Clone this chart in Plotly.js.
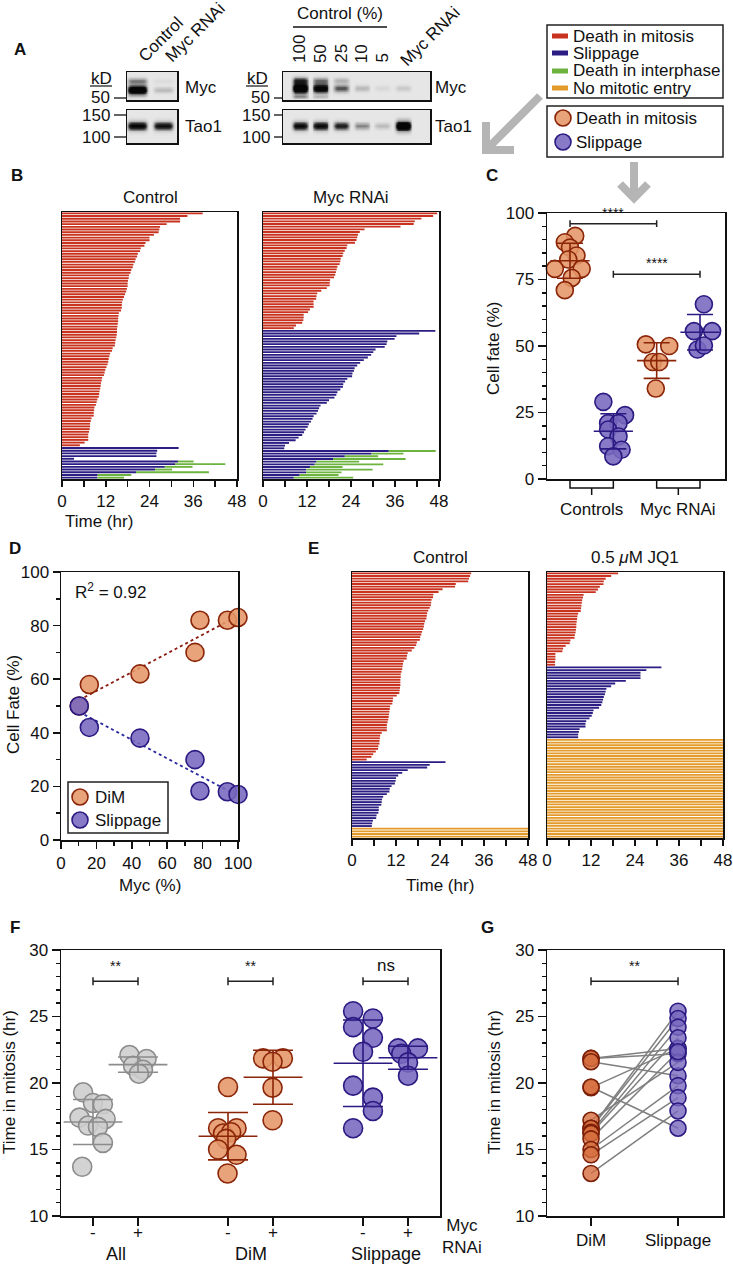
<!DOCTYPE html>
<html><head><meta charset="utf-8">
<script src="https://cdn.plot.ly/plotly-3.0.1.min.js"></script>
<style>html,body{margin:0;padding:0;background:#fff;}#chart{width:733px;height:1264px;}</style>
</head><body><div id="chart"></div>
<script>
// ---------------- DATA ----------------
// Panel A: relative band intensities per lane
const blot1Lanes = ['Control','Myc RNAi'];
const blot1Myc = [1.3, 0.22];
const blot1MycSmear = [0.45, 0.05];
const blot1Tao1 = [1.05, 0.95];
const blot2Lanes = ['100','50','25','10','5','Myc RNAi'];
const blot2Myc = [1.4, 1.15, 0.6, 0.22, 0.07, 0.14];
const blot2MycSmear = [0.7, 0.45, 0.25, 0.0, 0.0, 0.0];
const blot2MycLow = [0.35, 0.2, 0.0, 0.0, 0.0, 0.0];
const blot2Tao1 = [1.0, 1.0, 0.85, 0.45, 0.22, 1.4];

// Panel B: time (hr) per cell
const bCtrlDiM = [38.6,34.4,32.4,32.4,28.7,26.9,26.7,26.5,25.2,24.0,24.0,22.9,22.6,21.6,21.4,20.8,20.6,20.2,20.0,19.6,19.4,19.0,18.8,18.4,18.3,18.1,18.0,18.0,17.8,17.6,17.3,17.0,16.7,16.5,16.4,16.4,16.2,15.6,15.5,15.4,15.4,15.3,15.2,15.1,15.1,15.0,14.9,14.7,14.6,14.5,13.9,13.7,13.2,13.0,12.8,12.7,12.5,12.2,11.9,11.7,11.5,11.0,10.9,10.7,10.6,10.5,10.3,10.2,10.1,9.7,9.5,9.3,8.9,8.8,8.7,8.7,8.1,7.9,7.7,7.7,7.6,7.4,7.2,7.2,7.2,6.2,4.9];
const bCtrlSlip = [32.0,26.1,25.9,25.9,3.3];
const bCtrlSlipThenDieMitExit = [31.8,31.0,28.2,25.5,20.3,9.8,9.7];
const bCtrlSlipThenDieDeath = [36.1,44.8,35.8,30.2,40.3,19.0,17.0];
const bMycDiM = [47.5,46.4,43.2,41.4,41.1,37.5,27.7,26.4,25.9,25.7,25.5,25.1,23.0,22.8,22.3,21.9,21.7,21.2,21.1,20.9,20.3,20.1,19.9,19.7,19.4,18.3,18.2,18.2,17.4,15.9,14.8,14.6,14.5,13.8,13.8,13.8,12.8,12.3,11.1,11.1,11.0,10.7,9.0,8.4];
const bMycSlip = [47.0,42.6,36.4,35.9,33.9,33.7,33.2,30.7,30.1,29.5,28.6,27.5,26.5,25.7,25.0,24.8,24.4,24.3,23.0,22.4,21.9,21.8,21.1,20.3,20.0,19.5,18.0,17.4,15.7,15.3,15.0,14.6,13.8,13.5,13.1,12.5,12.2,11.6,11.2,10.7,9.7,8.9,7.1,6.0,5.8];
const bMycSlipThenDieMitExit = [34.3,29.6,22.3,19.1,14.6,14.1,12.8,11.8,11.8,10.0,8.4];
const bMycSlipThenDieDeath = [47.1,38.3,31.4,38.9,26.2,32.8,21.7,29.9,21.4,20.6,24.6];

// Panel C: cell fate (%) per experiment
const cCtrlDiM = [91.4,89,87,84,82.5,79,79,75.6,71];
const cCtrlDiMJit = [0.12,-0.12,0,0.15,-0.04,-0.35,0.27,0.04,-0.12];
const cCtrlSlip = [29,24,21,21,18.6,16,12.3,11,8.5];
const cCtrlSlipJit = [-0.23,0.27,-0.12,0.12,-0.12,0.12,-0.12,0.19,0];
const cMycDiM = [50.6,50,44,44,34];
const cMycDiMJit = [-0.25,0.29,-0.09,0.06,-0.02];
const cMycSlip = [65.7,55.6,55.6,48.7,50.2];
const cMycSlipJit = [0.09,-0.14,0.28,-0.06,0.09];
const cGroupLabels = ['Controls','Myc RNAi'];

// Panel D
const dMyc = [10.3,16,44.6,75.7,78.5,94,100];
const dDiM = [50,58,62,70,82,82,83];
const dSlip = [50,42,38,30,18.3,18,17];
const dR2 = '0.92';

// Panel E
const eCtrlDiM = [32.5,32.2,31.9,31.7,28.3,28.1,24.7,23.6,22.2,22.1,21.7,21.6,21.5,21.2,20.8,20.5,20.4,20.3,19.9,19.7,19.6,19.4,19.1,18.9,18.6,18.5,17.7,17.5,17.0,16.3,15.2,15.0,14.9,14.1,13.9,13.8,13.7,13.5,13.3,13.3,13.2,13.2,13.2,13.1,13.0,12.9,12.2,11.2,11.1,11.0,10.4,10.3,10.2,10.1,10.0,9.9,9.7,9.5,9.5,9.5,8.1,7.7,7.6,7.5,7.5,7.2,7.1,6.5,5.8,5.3,4.0];
const eCtrlSlip = [25.5,21.2,20.5,15.2,13.7,12.6,12.0,11.9,11.7,10.8,10.3,10.2,9.5,8.5,8.2,8.1,8.0,7.3,7.3,7.2,6.7,6.6,5.7,5.5,5.4];
const eCtrlNoEntry = [48,48,48,48];
const eJQ1DiM = [19.4,17.5,16.0,15.5,15.4,14.4,13.9,13.3,10.0,9.8,9.6,9.5,9.4,9.3,9.2,8.5,8.3,8.2,8.1,8.0,8.0,7.9,7.8,7.6,7.5,6.4,6.2,5.1,4.4,4.2,2.3,2.3,2.3,2.2,2.2];
const eJQ1Slip = [31.2,27.1,25.5,25.5,25.5,21.5,18.6,17.5,16.2,16.0,15.8,15.5,15.3,15.1,14.8,14.2,12.7,12.5,12.2,11.6,10.7,10.5,10.5,8.9,8.7,8.5,8.5];
const eJQ1NoEntry = [48,48,48,48,48,48,48,48,48,48,48,48,48,48,48,48,48,48,48,48,48,48,48,48,48,48,48,48,48,48,48,48,48,48,48,48,48];

// Panel F: time in mitosis (hr) per experiment
const fAllMinus = [19.3,18.5,18.4,17.4,17.3,16.8,16.7,15.5,13.7];
const fAllMinusJit = [-0.22,0,0.22,-0.30,0.28,-0.11,0.11,0.22,-0.24];
const fAllPlus = [22.1,21.8,21.3,21.0,20.7];
const fAllPlusJit = [-0.19,0.19,-0.11,0.11,0.02];
const fDiMMinus = [19.7,16.6,16.6,16.2,16.3,15.8,15.0,14.6,13.2];
const fDiMMinusJit = [0,-0.22,0.19,-0.11,0.07,-0.04,-0.22,0.19,-0.01];
const fDiMPlus = [21.85,21.85,21.6,19.65,17.2];
const fDiMPlusJit = [-0.22,0.22,-0.01,-0.01,-0.01];
const fSlipMinus = [25.4,24.85,24.2,23.4,22.35,19.8,18.9,17.9,16.6];
const fSlipMinusJit = [-0.22,0.22,-0.22,0.22,0,-0.22,0.22,0.22,-0.22];
const fSlipPlus = [22.6,22.6,22.2,21.55,20.55];
const fSlipPlusJit = [-0.22,0.22,-0.15,0,0];
const fTickVals = [1,2,4,5,7,8];
const fTickText = ['-','+','-','+','-','+'];
const fGroups = ['All','DiM','Slippage'];

// Panel G: paired DiM / Slippage per experiment
const gDiM = [21.85,21.85,21.6,19.65,17.2,19.7,16.6,16.6,16.3,16.2,15.8,15.0,14.6,13.2];
const gSlip = [22.2,22.6,20.55,22.6,21.55,16.6,25.4,24.85,24.2,23.4,22.35,19.8,18.9,17.9];

// ---------------- STYLE / HELPERS ----------------
const FONT = 'Liberation Sans, Arial, Helvetica, sans-serif';
const W = 733, H = 1264;
const fx = p => p / W, fy = p => 1 - p / H;
const RED = '#c8321e', NAVY = '#2b1d84', GREEN = '#6db33f', ORANGE = '#e39a2b';
const DIM_FILL = 'rgba(229,150,104,0.88)', DIM_LINE = '#8a2508';
const SLIP_FILL = 'rgba(120,104,190,0.88)', SLIP_LINE = '#2a1a82';
const GRAY_FILL = 'rgba(205,205,205,0.88)', GRAY_LINE = '#8c8c8c';
const INK = '#111';

const traces = [], shapes = [], annotations = [];
const layout = {width: W, height: H, margin: {l:0,r:0,t:0,b:0}, paper_bgcolor:'#fff', plot_bgcolor:'rgba(0,0,0,0)',
  showlegend:false, hovermode:false, barmode:'overlay', bargap:0.3, font:{family:FONT, color:INK}};

const aid = n => n === 1 ? '' : String(n);
function ann(text, x, y, o) {
  return Object.assign({text, x: fx(x), y: fy(y), xref:'paper', yref:'paper', showarrow:false,
    font:{family:FONT, size:17, color:INK}, xanchor:'center', yanchor:'middle'}, o || {});
}
function boxAxis(o) {
  return Object.assign({showline:true, mirror:true, linecolor:INK, linewidth:1.5, showgrid:false,
    zeroline:false, fixedrange:true, ticks:'outside', ticklen:6, tickwidth:1.5, tickcolor:INK,
    tickfont:{family:FONT, size:17, color:INK}}, o);
}
function setAxes(n, xd, yd, xo, yo) {
  layout['xaxis' + aid(n)] = boxAxis(Object.assign({domain:[fx(xd[0]), fx(xd[1])], anchor:'y' + aid(n)}, xo));
  layout['yaxis' + aid(n)] = boxAxis(Object.assign({domain:[fy(yd[1]), fy(yd[0])], anchor:'x' + aid(n)}, yo));
}
const idx = (n, off) => Array.from({length:n}, (_, i) => off + i);

// ---------------- PANELS B & E: single-cell fate bars ----------------
function fatePanel(n, xd, yd, segs) {
  let row = 0;
  const xa = 'x' + aid(n), ya = 'y' + aid(n);
  segs.forEach(s => {
    const rows = idx(s.vals.length, row);
    traces.push({type:'bar', orientation:'h', x:s.vals, y:rows, xaxis:xa, yaxis:ya,
      marker:{color:s.color, line:{width:0}}, hoverinfo:'skip'});
    if (s.green) {
      traces.push({type:'bar', orientation:'h', base:s.vals, x:s.green.map((d, i) => d - s.vals[i]),
        y:rows, xaxis:xa, yaxis:ya, marker:{color:GREEN, line:{width:0}}, hoverinfo:'skip'});
    }
    row += s.vals.length;
  });
  setAxes(n, xd, yd,
    {range:[0,48], tickmode:'linear', tick0:0, dtick:12,
     minor:{dtick:6, ticks:'outside', ticklen:6, tickwidth:1.5, tickcolor:INK, showgrid:false}},
    {range:[row - 0.5, -0.5], showticklabels:false, ticks:''});
}
fatePanel(1, [62,237], [212,479], [
  {vals:bCtrlDiM, color:RED}, {vals:bCtrlSlip, color:NAVY},
  {vals:bCtrlSlipThenDieMitExit, color:NAVY, green:bCtrlSlipThenDieDeath}]);
fatePanel(2, [263,439], [212,479], [
  {vals:bMycDiM, color:RED}, {vals:bMycSlip, color:NAVY},
  {vals:bMycSlipThenDieMitExit, color:NAVY, green:bMycSlipThenDieDeath}]);
fatePanel(5, [352,528], [572,838], [
  {vals:eCtrlDiM, color:RED}, {vals:eCtrlSlip, color:NAVY}, {vals:eCtrlNoEntry, color:ORANGE}]);
fatePanel(6, [547,723], [572,838], [
  {vals:eJQ1DiM, color:RED}, {vals:eJQ1Slip, color:NAVY}, {vals:eJQ1NoEntry, color:ORANGE}]);

// ---------------- stats helpers ----------------
const mean = a => a.reduce((s, v) => s + v, 0) / a.length;
const sd = a => { const m = mean(a); return Math.sqrt(a.reduce((s, v) => s + (v - m) * (v - m), 0) / (a.length - 1)); };

function dotGroup(ax, pos, vals, jit, fill, line, size, meanW, capW) {
  const xa = 'x' + aid(ax), ya = 'y' + aid(ax);
  traces.push({type:'scatter', mode:'markers', x: vals.map((v, i) => pos + jit[i]), y: vals,
    xaxis:xa, yaxis:ya, cliponaxis:false, hoverinfo:'skip',
    marker:{size, color:fill, line:{color:line, width:1.6}}});
  traces.push({type:'scatter', mode:'markers', x:[pos], y:[mean(vals)], xaxis:xa, yaxis:ya, cliponaxis:false, hoverinfo:'skip',
    marker:{symbol:'line-ew', size:meanW, color:line, line:{color:line, width:1.6}},
    error_y:{type:'data', array:[sd(vals)], visible:true, color:line, thickness:1.6, width:capW}});
}
function sigBracket(ax, x0, x1, y, cap, label, lsize, dy) {
  const xr = 'x' + aid(ax), yr = 'y' + aid(ax);
  shapes.push({type:'path', xref:xr, yref:yr,
    path:`M${x0},${y - cap} L${x0},${y + cap} M${x0},${y} L${x1},${y} M${x1},${y - cap} L${x1},${y + cap}`,
    line:{color:'#222', width:1.5}});
  annotations.push({text:label, x:(x0 + x1) / 2, y:y + dy, xref:xr, yref:yr, showarrow:false,
    font:{family:FONT, size:lsize, color:INK}, xanchor:'center', yanchor:'bottom'});
}

// ---------------- PANEL C ----------------
setAxes(3, [547,725], [213,479],
  {range:[0.469,4.577], ticks:'', showticklabels:false},
  {range:[0,100], tickmode:'linear', tick0:0, dtick:25, ticklen:8,
   minor:{dtick:5, ticks:'outside', ticklen:4, tickwidth:1.5, tickcolor:INK, showgrid:false}});
dotGroup(3, 1, cCtrlDiM, cCtrlDiMJit, DIM_FILL, DIM_LINE, 17, 28, 13);
dotGroup(3, 2, cCtrlSlip, cCtrlSlipJit, SLIP_FILL, SLIP_LINE, 17, 28, 13);
dotGroup(3, 3, cMycDiM, cMycDiMJit, DIM_FILL, DIM_LINE, 17, 28, 13);
dotGroup(3, 4, cMycSlip, cMycSlipJit, SLIP_FILL, SLIP_LINE, 17, 28, 13);
sigBracket(3, 1, 3, 96, 1.3, '****', 14, 0.4);
sigBracket(3, 2, 4, 77, 1.3, '****', 14, 0.4);
[[1,2],[3,4]].forEach((p, i) => {
  shapes.push({type:'path', xref:'x3', yref:'paper',
    path:`M${p[0]},${fy(481)} L${p[0]},${fy(488)} L${p[1]},${fy(488)} L${p[1]},${fy(481)} M${(p[0]+p[1])/2},${fy(488)} L${(p[0]+p[1])/2},${fy(495)}`,
    line:{color:INK, width:1.5}});
  annotations.push({text:cGroupLabels[i], x:(p[0]+p[1])/2, y:fy(509), xref:'x3', yref:'paper', showarrow:false,
    font:{family:FONT, size:17, color:INK}, xanchor:'center', yanchor:'middle'});
});
annotations.push(ann('Cell fate (%)', 493, 348, {textangle:-90}));

// ---------------- PANEL D ----------------
setAxes(4, [61,238], [572,840],
  {range:[0,100], tickmode:'linear', tick0:0, dtick:20, ticklen:7,
   minor:{dtick:10, ticks:'outside', ticklen:4, tickwidth:1.5, tickcolor:INK, showgrid:false}},
  {range:[0,100], tickmode:'linear', tick0:0, dtick:20, ticklen:7,
   minor:{dtick:10, ticks:'outside', ticklen:4, tickwidth:1.5, tickcolor:INK, showgrid:false}});
function fitLine(x, y) {
  const mx = mean(x), my = mean(y);
  let sxy = 0, sxx = 0; x.forEach((v, i) => { sxy += (v - mx) * (y[i] - my); sxx += (v - mx) * (v - mx); });
  const b = sxy / sxx, a = my - b * mx;
  const xs = [Math.min(...x), Math.max(...x)];
  return {x: xs, y: xs.map(v => a + b * v)};
}
const dFitDiM = fitLine(dMyc, dDiM), dFitSlip = fitLine(dMyc, dSlip);
traces.push({type:'scatter', mode:'lines', x:dFitDiM.x, y:dFitDiM.y, xaxis:'x4', yaxis:'y4', line:{color:'#8a1a10', width:1.8, dash:'dot'}, hoverinfo:'skip'});
traces.push({type:'scatter', mode:'lines', x:dFitSlip.x, y:dFitSlip.y, xaxis:'x4', yaxis:'y4', line:{color:'#2a2aa0', width:1.8, dash:'dot'}, hoverinfo:'skip'});
traces.push({type:'scatter', mode:'markers', x:dMyc, y:dDiM, xaxis:'x4', yaxis:'y4', cliponaxis:false, hoverinfo:'skip',
  marker:{size:18, color:DIM_FILL, line:{color:DIM_LINE, width:1.6}}});
traces.push({type:'scatter', mode:'markers', x:dMyc, y:dSlip, xaxis:'x4', yaxis:'y4', cliponaxis:false, hoverinfo:'skip',
  marker:{size:18, color:SLIP_FILL, line:{color:SLIP_LINE, width:1.6}}});
annotations.push(ann('R<sup>2</sup> = ' + dR2, 73, 591, {xanchor:'left', size:17}));
annotations.push(ann('Cell Fate (%)', 13, 705, {textangle:-90}));
annotations.push(ann('Myc (%)', 150, 885));
shapes.push({type:'rect', xref:'paper', yref:'paper', x0:fx(68), x1:fx(168), y0:fy(833), y1:fy(782), line:{color:'#222', width:1.5}, fillcolor:'#fff'});
[[797, DIM_FILL, DIM_LINE, 'DiM'], [820, SLIP_FILL, SLIP_LINE, 'Slippage']].forEach(r => {
  shapes.push({type:'circle', xref:'paper', yref:'paper', x0:fx(72), x1:fx(88), y0:fy(r[0] + 8), y1:fy(r[0] - 8), fillcolor:r[1], line:{color:r[2], width:1.6}});
  annotations.push(ann(r[3], 93, r[0], {xanchor:'left'}));
});

// ---------------- PANEL F ----------------
setAxes(7, [61,440], [950,1216],
  {range:[0.289,8.711], tickmode:'array', tickvals:fTickVals, ticklen:8, showticklabels:false},
  {range:[10,30], tickmode:'linear', tick0:10, dtick:5, ticklen:8,
   minor:{dtick:1, ticks:'outside', ticklen:4, tickwidth:1.5, tickcolor:INK, showgrid:false}});
dotGroup(7, 1, fAllMinus, fAllMinusJit, GRAY_FILL, GRAY_LINE, 19, 42, 20);
dotGroup(7, 2, fAllPlus, fAllPlusJit, GRAY_FILL, GRAY_LINE, 19, 42, 20);
dotGroup(7, 4, fDiMMinus, fDiMMinusJit, DIM_FILL, DIM_LINE, 19, 42, 20);
dotGroup(7, 5, fDiMPlus, fDiMPlusJit, DIM_FILL, DIM_LINE, 19, 42, 20);
dotGroup(7, 7, fSlipMinus, fSlipMinusJit, SLIP_FILL, SLIP_LINE, 19, 42, 20);
dotGroup(7, 8, fSlipPlus, fSlipPlusJit, SLIP_FILL, SLIP_LINE, 19, 42, 20);
sigBracket(7, 1, 2, 27.65, 0.3, '**', 14, 0.4);
sigBracket(7, 4, 5, 27.65, 0.3, '**', 14, 0.4);
sigBracket(7, 7, 8, 27.65, 0.3, 'ns', 17, 0.3);
fTickVals.forEach((v, i) => annotations.push({text:fTickText[i], x:v, y:fy(1232), xref:'x7', yref:'paper', showarrow:false,
  font:{family:FONT, size:17, color:INK}, xanchor:'center', yanchor:'middle'}));
fGroups.forEach((g, i) => annotations.push({text:g, x:(fTickVals[2*i] + fTickVals[2*i+1]) / 2, y:fy(1254), xref:'x7', yref:'paper', showarrow:false,
  font:{family:FONT, size:18, color:INK}, xanchor:'center', yanchor:'middle'}));
annotations.push(ann('Myc<br>RNAi', 462, 1236, {size:17}));
annotations.push(ann('Time in mitosis (hr)', 9, 1082, {textangle:-90, size:18}));

// ---------------- PANEL G ----------------
setAxes(8, [547,723], [950,1216],
  {range:[-0.506,1.517], tickmode:'array', tickvals:[0,1], ticktext:['DiM','Slippage'], ticklen:8},
  {range:[10,30], tickmode:'linear', tick0:10, dtick:5, ticklen:8,
   minor:{dtick:1, ticks:'outside', ticklen:4, tickwidth:1.5, tickcolor:INK, showgrid:false}});
const gx = [], gy = [];
gDiM.forEach((d, i) => { gx.push(0, 1, null); gy.push(d, gSlip[i], null); });
traces.push({type:'scatter', mode:'lines', x:gx, y:gy, xaxis:'x8', yaxis:'y8', line:{color:'#7f7f7f', width:1.5}, hoverinfo:'skip', connectgaps:false});
traces.push({type:'scatter', mode:'markers', x:gDiM.map(() => 0), y:gDiM, xaxis:'x8', yaxis:'y8', cliponaxis:false, hoverinfo:'skip',
  marker:{size:16, color:'rgba(214,110,62,0.8)', line:{color:'#7a1e06', width:1.6}}});
traces.push({type:'scatter', mode:'markers', x:gSlip.map(() => 1), y:gSlip, xaxis:'x8', yaxis:'y8', cliponaxis:false, hoverinfo:'skip',
  marker:{size:16, color:'rgba(120,104,190,0.8)', line:{color:SLIP_LINE, width:1.6}}});
sigBracket(8, 0, 1, 27.65, 0.3, '**', 14, 0.4);
annotations.push(ann('Time in mitosis (hr)', 494, 1082, {textangle:-90, size:16}));

// ---------------- PANEL A: blots ----------------
function blotTrace(ax, nLanes, xr, bands) {
  const xs = [], ys = [];
  for (let x = xr[0]; x <= xr[1] + 1e-9; x += 0.04) xs.push(+x.toFixed(3));
  for (let y = 0; y <= 1.0001; y += 0.025) ys.push(+y.toFixed(3));
  const z = ys.map(y => xs.map(x => {
    let v = 0;
    bands.forEach(b => {
      for (let i = 0; i < nLanes; i++) {
        const I = b.int[i]; if (!I) continue;
        const lp = Math.exp(-Math.pow((x - i) / 0.37, 6));
        const s = b.sy * (0.7 + 0.45 * Math.min(I, 1.4));
        v += I * lp * Math.exp(-Math.pow((y - b.yc) / s, 2));
      }
    });
    return Math.min(v, 1);
  }));
  traces.push({type:'heatmap', x:xs, y:ys, z, zmin:0, zmax:1, showscale:false, zsmooth:'best', hoverinfo:'skip',
    xaxis:'x' + aid(ax), yaxis:'y' + aid(ax),
    colorscale:[[0,'#e6e6e6'],[0.35,'#a0a0a0'],[0.7,'#333'],[1,'#050505']]});
}
const blotAx = {ticks:'', showticklabels:false, linewidth:1.5};
const b1xr = [-0.385, 1.538], b2xr = [-0.825, 6.31];
setAxes(9, [127,177], [72,100], Object.assign({range:b1xr}, blotAx), Object.assign({range:[0,1]}, blotAx));
setAxes(10, [127,177], [110,143], Object.assign({range:b1xr}, blotAx), Object.assign({range:[0,1]}, blotAx));
setAxes(11, [283,430], [72,100], Object.assign({range:b2xr}, blotAx), Object.assign({range:[0,1]}, blotAx));
setAxes(12, [283,430], [110,143], Object.assign({range:b2xr}, blotAx), Object.assign({range:[0,1]}, blotAx));
blotTrace(9, 2, b1xr, [{int:blot1Myc, yc:0.36, sy:0.13}, {int:blot1MycSmear, yc:0.68, sy:0.12}]);
blotTrace(10, 2, b1xr, [{int:blot1Tao1, yc:0.52, sy:0.11}]);
blotTrace(11, 6, b2xr, [{int:blot2Myc, yc:0.42, sy:0.14}, {int:blot2MycSmear, yc:0.7, sy:0.12}, {int:blot2MycLow, yc:0.12, sy:0.07}]);
blotTrace(12, 6, b2xr, [{int:blot2Tao1, yc:0.52, sy:0.11}]);

annotations.push(ann('<b>A</b>', 20, 50, {size:19}));
annotations.push(ann(blot1Lanes[0], 161, 40, {textangle:-45, size:17}));
annotations.push(ann(blot1Lanes[1], 195, 32, {textangle:-45, size:17}));
annotations.push(ann(blot2Lanes[5], 430, 36, {textangle:-45, size:17}));
[49, 53.5, 53.5, 53.5, 58].forEach((yy, i) => annotations.push({text:blot2Lanes[i], x:i, y:fy(yy), xref:'x11', yref:'paper',
  showarrow:false, textangle:-90, font:{family:FONT, size:17, color:INK}, xanchor:'center', yanchor:'middle'}));
annotations.push(ann('Control (%)', 340, 14, {size:17}));
shapes.push({type:'line', xref:'paper', yref:'paper', x0:fx(293), x1:fx(387), y0:fy(27), y1:fy(27), line:{color:INK, width:1.3}});
[[101, 112, 126], [257, 272, 283]].forEach(c => {
  annotations.push(ann('kD', c[0], 78, {size:17}));
  shapes.push({type:'line', xref:'paper', yref:'paper', x0:fx(c[0] - 11), x1:fx(c[0] + 11), y0:fy(86), y1:fy(86), line:{color:INK, width:1.2}});
  [['50', 98], ['150', 115], ['100', 137]].forEach(t => {
    annotations.push(ann(t[0], c[1], t[1], {xanchor:'right', size:17}));
    shapes.push({type:'line', xref:'paper', yref:'paper', x0:fx(c[1] + 2), x1:fx(c[2]), y0:fy(t[1]), y1:fy(t[1]), line:{color:INK, width:1.3}});
  });
});
annotations.push(ann('Myc', 183, 87, {xanchor:'left', size:18}));
annotations.push(ann('Tao1', 183, 127, {xanchor:'left', size:18}));
annotations.push(ann('Myc', 433, 87, {xanchor:'left', size:18}));
annotations.push(ann('Tao1', 433, 127, {xanchor:'left', size:18}));

// ---------------- legends & arrows ----------------
shapes.push({type:'rect', xref:'paper', yref:'paper', x0:fx(547), x1:fx(723), y0:fy(98), y1:fy(25), line:{color:'#222', width:1.5}});
[[36, RED, 'Death in mitosis'], [53, NAVY, 'Slippage'], [71, GREEN, 'Death in interphase'], [88, ORANGE, 'No mitotic entry']].forEach(r => {
  shapes.push({type:'rect', xref:'paper', yref:'paper', x0:fx(552), x1:fx(568), y0:fy(r[0] + 2.5), y1:fy(r[0] - 2.5), fillcolor:r[1], line:{width:0}});
  annotations.push(ann(r[2], 571, r[0], {xanchor:'left', size:18}));
});
shapes.push({type:'rect', xref:'paper', yref:'paper', x0:fx(547), x1:fx(723), y0:fy(157), y1:fy(106), line:{color:'#222', width:1.5}});
[[118, DIM_FILL, DIM_LINE, 'Death in mitosis'], [142, SLIP_FILL, SLIP_LINE, 'Slippage']].forEach(r => {
  shapes.push({type:'circle', xref:'paper', yref:'paper', x0:fx(555), x1:fx(571), y0:fy(r[0] + 8), y1:fy(r[0] - 8), fillcolor:r[1], line:{color:r[2], width:1.6}});
  annotations.push(ann(r[3], 574, r[0], {xanchor:'left', size:18}));
});
const P = (x, y) => `${fx(x)},${fy(y)}`;
shapes.push({type:'path', xref:'paper', yref:'paper', path:`M${P(540,96)} L${P(489,147)} M${P(486,122)} L${P(486,150)} L${P(514,150)}`, line:{color:'#b5b5b5', width:8}});
shapes.push({type:'path', xref:'paper', yref:'paper', path:`M${P(634,162)} L${P(634,197)} M${P(620,184)} L${P(634,198)} L${P(648,184)}`, line:{color:'#b5b5b5', width:8}});

// ---------------- panel letters & titles ----------------
[['B',17,176],['C',492,176],['D',15,548],['E',313,548],['F',15,927],['G',487,927]].forEach(l =>
  annotations.push(ann('<b>' + l[0] + '</b>', l[1], l[2], {size:19})));
annotations.push(ann('Control', 150, 197));
annotations.push(ann('Myc RNAi', 351, 197));
annotations.push(ann('Time (hr)', 99, 521));
annotations.push(ann('Control', 440, 557));
annotations.push(ann('0.5 <i>μ</i>M JQ1', 635, 557));
annotations.push(ann('Time (hr)', 440, 885));

layout.shapes = shapes;
layout.annotations = annotations;
Plotly.newPlot('chart', traces, layout, {displayModeBar:false, staticPlot:true});
</script></body></html>
